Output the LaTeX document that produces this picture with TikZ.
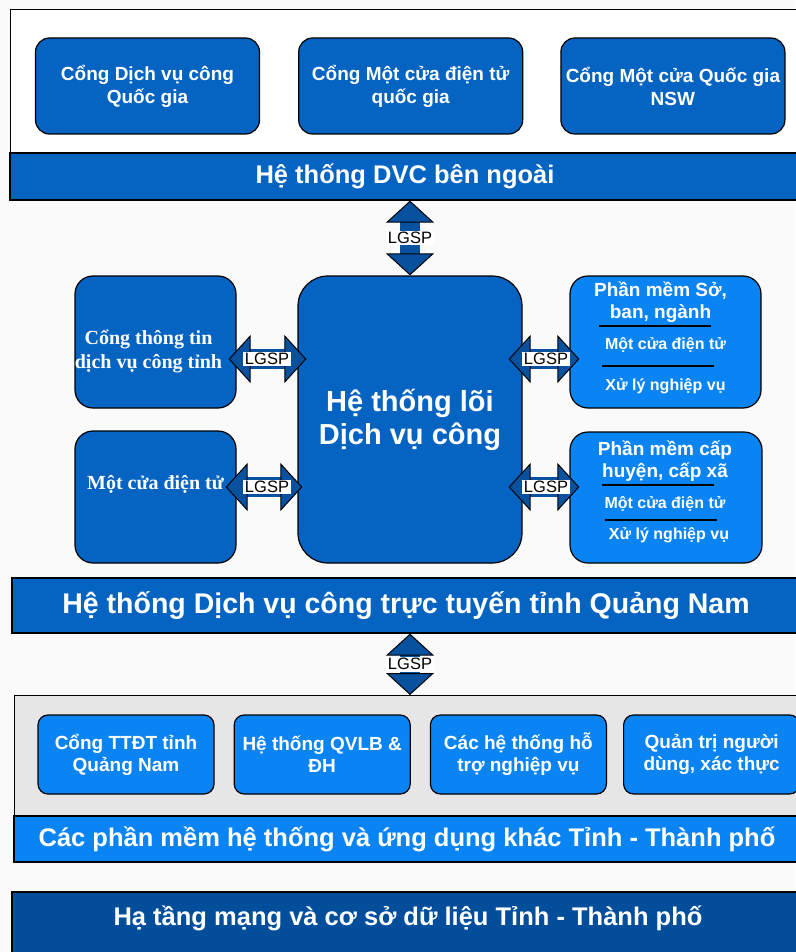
\documentclass[tikz,border=0pt]{standalone}
\usepackage{fontspec}
\setmainfont{Liberation Sans}
\newfontfamily\serifface{Liberation Serif}
\usetikzlibrary{positioning,calc,arrows.meta}

\definecolor{portalblue}{HTML}{0563C1}
\definecolor{brightblue}{HTML}{0B84F3}
\definecolor{navyblue}{HTML}{034E9B}
\definecolor{headblue}{HTML}{08519F}
\definecolor{framegray}{HTML}{E6E6E6}
\definecolor{pagegray}{HTML}{FAFAFA}

\begin{document}
\begin{tikzpicture}[
    x=1pt, y=-1pt,
    every node/.style={text=white, inner sep=0pt},
    panel/.style={
        draw,
        line width=1.2pt,
        anchor=north west
    },
    band/.style={
        draw,
        line width=1.2pt,
        fill=portalblue,
        font=\bfseries\fontsize{25.5}{30}\selectfont
    },
    topbox/.style={
        draw,
        line width=1.2pt,
        rounded corners=14pt,
        fill=portalblue,
        minimum width=224pt,
        minimum height=96pt,
        align=center,
        font=\bfseries\fontsize{19}{23}\selectfont
    },
    sidebox/.style={
        draw,
        line width=1.2pt,
        rounded corners=18pt,
        fill=portalblue,
        minimum width=161pt,
        minimum height=132pt
    },
    unitbox/.style={sidebox, fill=brightblue, minimum width=191pt},
    appbox/.style={
        draw,
        line width=1.2pt,
        rounded corners=10pt,
        fill=brightblue,
        minimum width=176pt,
        minimum height=79pt,
        align=center,
        font=\bfseries\fontsize{19}{22}\selectfont
    },
    serifcap/.style={align=center, font=\serifface\bfseries\fontsize{20}{24}\selectfont},
    unitcap/.style={align=center, font=\bfseries\fontsize{19}{22}\selectfont},
    subcap/.style={font=\bfseries\fontsize{16}{19}\selectfont},
    divider/.style={line width=1.2pt},
    lgsp/.style={
        draw=headblue,
        line width=20pt,
        {Triangle[length=22pt,width=48pt,line width=1pt,color=black,fill=headblue]}-{Triangle[length=22pt,width=48pt,line width=1pt,color=black,fill=headblue]}
    },
    lgsplabel/.style={fill=white, text=black, inner sep=1.5pt, font=\fontsize{16.5}{18}\selectfont}
]

\fill[pagegray] (0,0) rectangle (795,952);
\useasboundingbox (0,0) rectangle (795,952);

% external public service systems
\node[panel, fill=white, minimum width=790pt, minimum height=191pt] (extpanel) at (10,9) {};

\node[topbox] (dvcqg) at (147.5,86) {Cổng Dịch vụ công\\Quốc gia};
\node[topbox, right=38pt of dvcqg] (mcqg) {Cổng Một cửa điện tử\\quốc gia};
\node[topbox, right=37pt of mcqg] (nsw) {Cổng Một cửa Quốc gia\\NSW};

\node[band, minimum width=790pt, minimum height=47pt] (dvcband) at (405,176.5)
    {Hệ thống DVC bên ngoài};

% provincial core
\node[sidebox] (ttdvc) at (155.5,342) {};
\node[sidebox] (mcdt) at (155.5,497) {};

\node[sidebox, minimum width=224pt, minimum height=287pt, rounded corners=30pt,
      align=center, font=\bfseries\fontsize{29}{33}\selectfont] (core) at (410,419.5)
    {Hệ thống lõi\\Dịch vụ công};

\node[unitbox] (sbn) at (665.5,342) {};
\node[unitbox, minimum width=192pt, minimum height=131pt] (huyen) at (666,497.5) {};

\node[serifcap] (ttdvccap) at ($(ttdvc.center)+(-7,9)$) {Cổng thông tin\\dịch vụ công tỉnh};
\node[serifcap] (mcdtcap) at ($(mcdt.center)+(0,-13)$) {Một cửa điện tử};

\node[unitcap] (sbncap) at ($(sbn.center)+(-5,-40)$) {Phần mềm Sở,\\ban, ngành};
\draw[divider] ($(sbn.center)+(-66.5,-16)$) -- ++(112,0);
\node[subcap] (sbnmc) at ($(sbn.center)+(0,3)$) {Một cửa điện tử};
\draw[divider] ($(sbn.center)+(-63.5,24)$) -- ++(112,0);
\node[subcap] (sbnxl) at ($(sbn.center)+(0,44)$) {Xử lý nghiệp vụ};

\node[unitcap] (huyencap) at ($(huyen.center)+(-1,-36.5)$) {Phần mềm cấp\\huyện, cấp xã};
\draw[divider] ($(huyen.center)+(-64,-12.5)$) -- ++(112,0);
\node[subcap] (huyenmc) at ($(huyen.center)+(-1,6.5)$) {Một cửa điện tử};
\draw[divider] ($(huyen.center)+(-61,22.5)$) -- ++(112,0);
\node[subcap] (huyenxl) at ($(huyen.center)+(3,37.5)$) {Xử lý nghiệp vụ};

\node[band, minimum width=788pt, minimum height=55pt,
      font=\bfseries\fontsize{28.5}{32}\selectfont] (dvcttband) at (406,605.5)
    {Hệ thống Dịch vụ công trực tuyến tỉnh Quảng Nam};

% other provincial software
\node[panel, fill=framegray, minimum width=786pt, minimum height=167pt] (apppanel) at (14,695) {};

\node[appbox] (ttdt) at (126,754.5) {Cổng TTĐT tỉnh\\Quảng Nam};
\node[appbox, right=19pt of ttdt] (qvlb) {Hệ thống QVLB \&\\ĐH};
\node[appbox, right=19pt of qvlb] (hotro) {Các hệ thống hỗ\\trợ nghiệp vụ};
\node[appbox, right=16pt of hotro] (qtnd) {Quản trị người\\dùng, xác thực};

\node[band, fill=brightblue, minimum width=786pt, minimum height=46pt] (appband) at (407,839)
    {Các phần mềm hệ thống và ứng dụng khác Tỉnh - Thành phố};

% infrastructure
\draw[fill=navyblue, line width=1.2pt] (12,892) rectangle (800,960);
\node[font=\bfseries\fontsize{25.5}{30}\selectfont] (infra) at (408,918)
    {Hạ tầng mạng và cơ sở dữ liệu Tỉnh - Thành phố};

% LGSP links
\coordinate (rowa) at (0,359);
\coordinate (rowb) at (0,487);

\draw[lgsp] (dvcband.south -| core.north) -- node[lgsplabel] (lgsptop) {LGSP} (core.north);

\draw[lgsp, shorten <=-8pt, shorten >=-9pt]
    (ttdvc.east |- rowa) -- node[lgsplabel] (lgspa) {LGSP} (core.west |- rowa);
\draw[lgsp, shorten <=-11pt, shorten >=-5pt]
    (mcdt.east |- rowb) -- node[lgsplabel] (lgspb) {LGSP} (core.west |- rowb);
\draw[lgsp, shorten <=-14pt, shorten >=-10pt]
    (core.east |- rowa) -- node[lgsplabel] (lgspc) {LGSP} (sbn.west |- rowa);
\draw[lgsp, shorten <=-14pt, shorten >=-10pt]
    (core.east |- rowb) -- node[lgsplabel] (lgspd) {LGSP} (huyen.west |- rowb);

\draw[lgsp] (dvcttband.south -| core.south) -- node[lgsplabel] (lgspbottom) {LGSP}
    (apppanel.north -| core.south);

\end{tikzpicture}
\end{document}
